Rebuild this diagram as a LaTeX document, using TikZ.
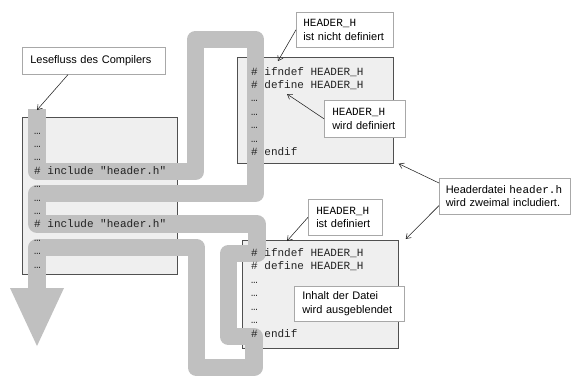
\documentclass[tikz,border=0pt]{standalone}
\usepackage{fontspec}
\setmainfont{Liberation Sans}
\setmonofont{Liberation Mono}
\usetikzlibrary{arrows.meta}
\definecolor{flow}{HTML}{C0C0C0}
\definecolor{boxfill}{HTML}{EFEFEF}
\definecolor{boxline}{HTML}{505050}
\definecolor{lblline}{HTML}{A8A8A8}
\definecolor{ink}{HTML}{222222}
\tikzset{
  codebox/.style={draw=boxline, fill=boxfill, line width=0.7pt, anchor=north west, inner sep=0pt},
  codeline/.style={anchor=base west, inner sep=0pt, font=\ttfamily\fontsize{11}{13.4}\selectfont, text=ink},
  lbl/.style={draw=lblline, fill=white, line width=0.6pt, anchor=north west, align=left, inner ysep=0pt, font=\fontsize{11}{13.5}\selectfont, text=black},
  flowline/.style={draw=flow, line width=17.5pt, line join=round, line cap=butt},
  pointer/.style={draw=ink, line width=0.55pt, -{Straight Barb[length=4.5pt,width=6pt]}},
}
\begin{document}
\begin{tikzpicture}[x=1pt,y=-1pt]
\useasboundingbox (0,0) rectangle (571,376);
% code boxes
\node[codebox, minimum width=155pt, minimum height=157pt] (src) at (22,117) {};
\node[codebox, minimum width=156pt, minimum height=106pt] (hdrA) at (237,57) {};
\node[codebox, minimum width=156pt, minimum height=108pt] (hdrB) at (242,240) {};
% reading flow of the compiler
\draw[flowline] (37,109) -- (37,171.5) -- (195.5,171.5) -- (195.5,39.5) -- (255.5,39.5)
  -- (255.5,193.5) -- (37,193.5) -- (37,224) -- (257,224) -- (257,253.5) -- (228.5,253.5)
  -- (228.5,336.5) -- (254,336.5) -- (254,367.5) -- (196.5,367.5) -- (196.5,247.5)
  -- (37,247.5) -- (37,288);
\fill[flow] (10,288) -- (64,288) -- (37,346) -- cycle;
% code text
\foreach \t [count=\i] in {{…},{…},{…},{\# include "header.h"},{…},{…},{…},{\# include "header.h"},{…},{…},{…}}
  \node[codeline] (s\i) at (34,{134+13.4*(\i-1)}) {\t};
\foreach \t [count=\i] in {{\# ifndef HEADER\_H},{\# define HEADER\_H},{…},{…},{…},{…},{\# endif}}
  \node[codeline] (a\i) at (251,{75+13.4*(\i-1)}) {\t};
\foreach \t [count=\i] in {{\# ifndef HEADER\_H},{\# define HEADER\_H},{…},{…},{…},{…},{\# endif}}
  \node[codeline] (b\i) at (251,{256+13.5*(\i-1)}) {\t};
% labels
\node[lbl, text width=127pt, inner xsep=8pt, minimum height=27pt] (lese) at (22,47) {Lesefluss des Compilers};
\node[lbl, text width=83pt, inner xsep=7pt, minimum height=35pt] (nd) at (296,12) {{\ttfamily HEADER\_H}\\ist~nicht~definiert};
\node[lbl, text width=65pt, inner xsep=8pt, minimum height=37pt] (wd) at (324,100) {{\ttfamily HEADER\_H}\\wird~definiert};
\node[lbl, text width=118pt, inner xsep=6.5pt, minimum height=36pt] (hz) at (439,178) {Headerdatei~{\ttfamily header.h}\\wird~zweimal~includiert.};
\node[lbl, text width=58pt, inner xsep=8pt, minimum height=36pt] (idf) at (308,199) {{\ttfamily HEADER\_H}\\ist~definiert};
\node[lbl, text width=94pt, inner xsep=8pt, minimum height=35pt] (inh) at (294,286) {Inhalt~der~Datei\\wird~ausgeblendet};
% pointers
\coordinate (flowtop) at (37,110);
\coordinate (defpt) at (287,94);
\draw[pointer] ([xshift=46pt]lese.south west) -- (flowtop);
\draw[pointer] (nd.west) -- ([xshift=41pt,yshift=-4pt]hdrA.north west);
\draw[pointer] (wd.west) -- (defpt);
\draw[pointer] ([yshift=-5pt]hz.north west) -- ([xshift=5pt]hdrA.south east);
\draw[pointer] ([yshift=9pt]hz.south west) -- ([xshift=7pt,yshift=1pt]hdrB.north east);
\draw[pointer] (idf.west) -- ([xshift=45pt,yshift=-1pt]hdrB.north west);
\end{tikzpicture}
\end{document}
